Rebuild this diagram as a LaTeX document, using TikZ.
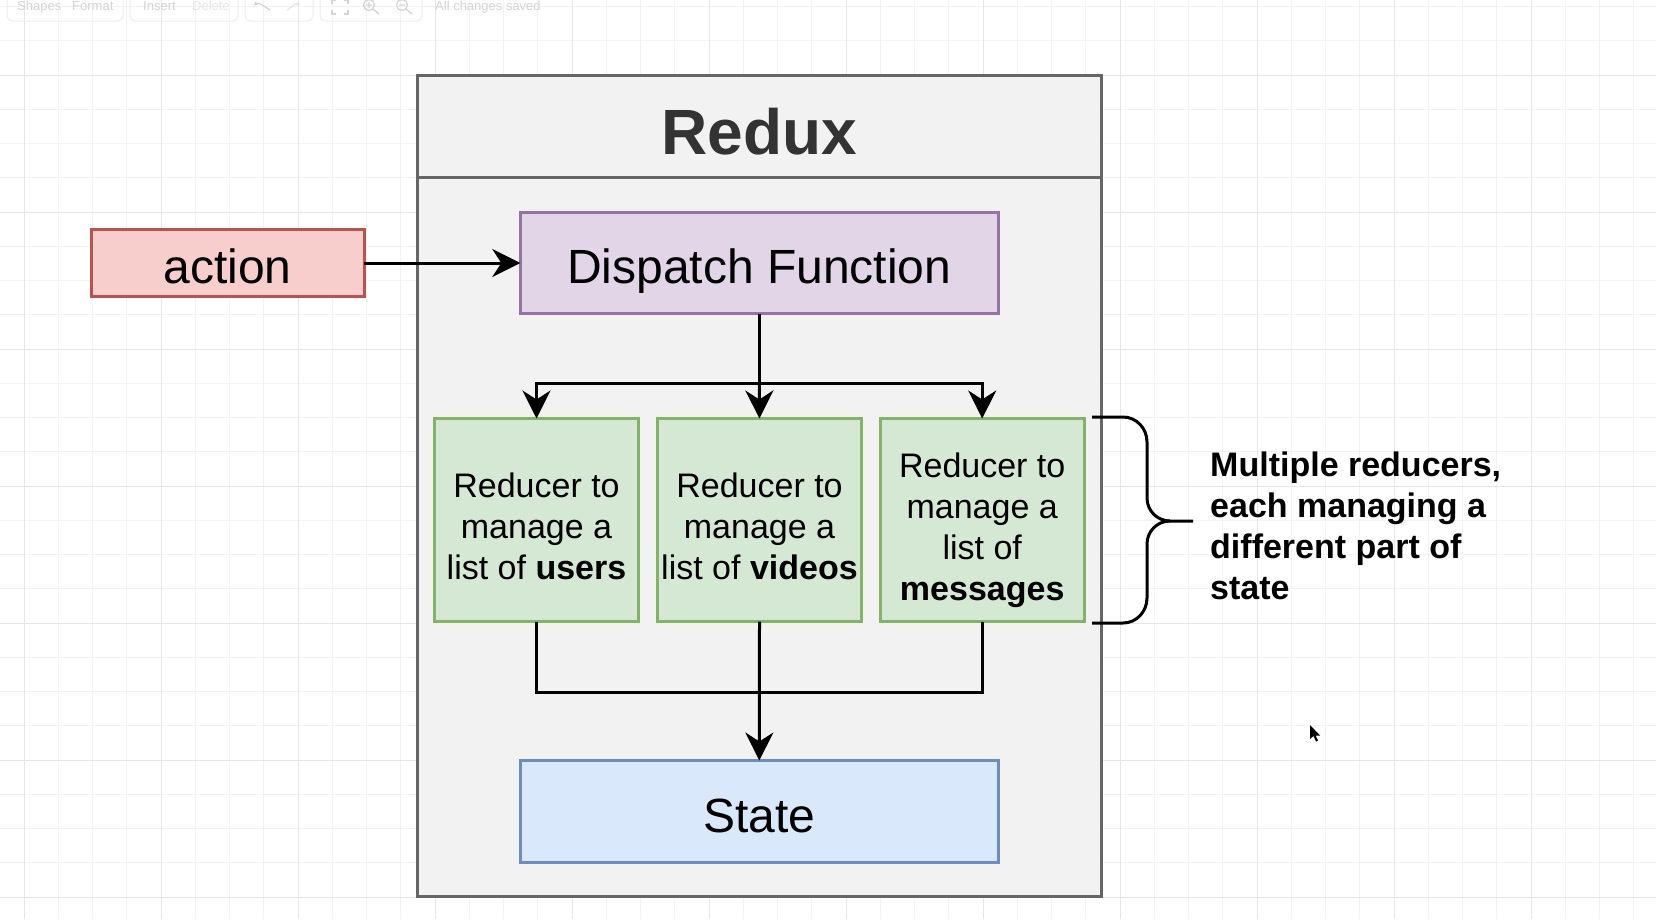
\documentclass[tikz,border=0pt]{standalone}
\usepackage{fontspec}
\setmainfont{Liberation Sans}
\usetikzlibrary{arrows.meta}
\definecolor{gminor}{HTML}{F3F3F3}
\definecolor{gmajor}{HTML}{E7E7E7}
\definecolor{contfill}{HTML}{F2F2F2}
\definecolor{contline}{HTML}{666666}
\definecolor{titlecol}{HTML}{333333}
\definecolor{redfill}{HTML}{F8CECC}
\definecolor{redline}{HTML}{B85450}
\definecolor{purfill}{HTML}{E1D5E7}
\definecolor{purline}{HTML}{9673A6}
\definecolor{grnfill}{HTML}{D5E8D4}
\definecolor{grnline}{HTML}{82B366}
\definecolor{blufill}{HTML}{DAE8FC}
\definecolor{bluline}{HTML}{6C8EBF}
\definecolor{tbtext}{HTML}{D4D4D4}
\definecolor{tbfaint}{HTML}{E6E6E6}
\definecolor{tbbox}{HTML}{EEEEEE}
\begin{document}
\begin{tikzpicture}[x=1pt,y=-1pt,
  box/.style={draw, line width=3pt, inner sep=0pt, outer sep=0pt},
  bigtext/.style={font=\fontsize{48}{58}\selectfont, text height=41pt, text depth=0pt},
  redtext/.style={font=\fontsize{34}{41}\selectfont, anchor=base, inner sep=0pt},
  notetext/.style={font=\fontsize{34}{41}\selectfont\bfseries, anchor=base west, inner sep=0pt},
  conn/.style={line width=3pt, black},
  arr/.style={conn, -{Stealth[length=28pt,width=28pt,inset=9pt]}},
  tbt/.style={font=\fontsize{13}{15}\selectfont, text=tbtext, anchor=base west, inner sep=0pt},
  icon/.style={draw=tbtext, line width=1.3pt}
]
\path[use as bounding box, fill=white] (0,0) rectangle (1656,919);

% grid
\foreach \i in {0,...,49}{
  \pgfmathsetmacro\gx{-10.25+34.25*\i}
  \draw[gminor, line width=1pt] (\gx,0) -- (\gx,919);
}
\foreach \i in {0,...,26}{
  \pgfmathsetmacro\gy{6.5+34.25*\i}
  \draw[gminor, line width=1pt] (0,\gy) -- (1656,\gy);
}
\foreach \i in {0,...,11}{
  \pgfmathsetmacro\gx{24+137*\i}
  \draw[gmajor, line width=1pt] (\gx,0) -- (\gx,919);
}
\foreach \i in {0,...,6}{
  \pgfmathsetmacro\gy{75+137*\i}
  \draw[gmajor, line width=1pt] (0,\gy) -- (1656,\gy);
}

% faint toolbar
\draw[tbbox, line width=1pt, rounded corners=5pt] (7,-8) rectangle (123,21);
\draw[tbbox, line width=1pt, rounded corners=5pt] (130,-8) rectangle (238,21);
\draw[tbbox, line width=1pt, rounded corners=5pt] (245,-8) rectangle (313,21);
\draw[tbbox, line width=1pt, rounded corners=5pt] (320,-8) rectangle (422,21);
\node[tbt] (tbshapes) at (17,10) {Shapes};
\node[tbt] (tbformat) at (72,10) {Format};
\node[tbt] (tbinsert) at (143,10) {Insert};
\node[tbt, text=tbfaint] (tbdelete) at (192,10) {Delete};
\node[tbt] (tbsaved) at (435,10) {All changes saved};
\draw[icon, -{Stealth[length=4pt,width=5pt]}] (270,10) to[out=150,in=30] (254,5);
\draw[icon, draw=tbfaint, -{Stealth[length=4pt,width=5pt]}] (287,10) to[out=30,in=150] (300,5);
\draw[icon] (332,4) -- (332,0) -- (336,0) (344,0) -- (348,0) -- (348,4)
            (348,10) -- (348,14) -- (344,14) (336,14) -- (332,14) -- (332,10);
\draw[icon] (369,5) circle (5.5pt) (373,9) -- (379,14) (366,5) -- (372,5) (369,2) -- (369,8);
\draw[icon] (402,5) circle (5.5pt) (406,9) -- (412,14) (399,5) -- (405,5);

% container (Redux)
\node[box, draw=contline, fill=contfill, minimum width=684pt, minimum height=821pt]
  (container) at (759.5,486) {};
\draw[contline, line width=3pt] (container.west |- 0,177) -- (container.east |- 0,177);
\node[font=\fontsize{64}{77}\selectfont\bfseries, text=titlecol, anchor=base, inner sep=0pt]
  (title) at (759.5,154) {Redux};

% boxes
\node[box, bigtext, draw=redline, fill=redfill, minimum width=273pt, minimum height=67pt]
  (action) at (227.5,263) {action};
\node[box, bigtext, draw=purline, fill=purfill, minimum width=478pt, minimum height=101pt]
  (dispatch) at (759.3,263) {Dispatch Function};
\node[box, draw=grnline, fill=grnfill, minimum width=204pt, minimum height=203pt]
  (r1) at (536.5,520) {};
\node[box, draw=grnline, fill=grnfill, minimum width=204pt, minimum height=203pt]
  (r2) at (759.5,520) {};
\node[box, draw=grnline, fill=grnfill, minimum width=204pt, minimum height=203pt]
  (r3) at (982.2,520) {};
\node[box, bigtext, draw=bluline, fill=blufill, minimum width=478pt, minimum height=102pt]
  (state) at (759.3,811.5) {State};

% reducer texts
\node[redtext] (r1a) at (536.5,497) {Reducer to};
\node[redtext] (r1b) at (536.5,538) {manage a};
\node[redtext] (r1c) at (536.5,579) {list of \textbf{users}};
\node[redtext] (r2a) at (759.5,497) {Reducer to};
\node[redtext] (r2b) at (759.5,538) {manage a};
\node[redtext] (r2c) at (759.5,579) {list of \textbf{videos}};
\node[redtext] (r3a) at (982.2,477) {Reducer to};
\node[redtext] (r3b) at (982.2,518) {manage a};
\node[redtext] (r3c) at (982.2,559) {list of};
\node[redtext] (r3d) at (982.2,600) {\textbf{messages}};

% connectors
\draw[arr] (action.east) -- (dispatch.west);
\coordinate (topbar) at (759.3,383);
\coordinate (botbar) at (759.5,692);
\draw[conn] (dispatch.south) -- (topbar);
\draw[arr] (topbar) -| (r1.north);
\draw[arr] (topbar) -- (r2.north);
\draw[arr] (topbar) -| (r3.north);
\draw[conn] (r1.south) |- (botbar);
\draw[conn] (r3.south) |- (botbar);
\draw[arr] (r2.south) -- (state.north);

% brace
\coordinate (bracetop) at (1092,417);
\coordinate (bracebot) at (1092,623);
\coordinate (bracetip) at (1193,521);
\draw[conn] (bracetop) -- (1123,417) to[out=0,in=90] (1147,442) -- (1147,498)
  to[out=-90,in=180] (1170,521) -- (bracetip);
\draw[conn] (bracebot) -- (1123,623) to[out=0,in=-90] (1147,598) -- (1147,544)
  to[out=90,in=180] (1170,521);

% note
\node[notetext] (n1) at (1210,476) {Multiple reducers,};
\node[notetext] (n2) at (1210,517) {each managing a};
\node[notetext] (n3) at (1210,558) {different part of};
\node[notetext] (n4) at (1210,599) {state};

% mouse cursor
\fill[black] (1310,725) -- (1310,739) -- (1313.5,736) -- (1316,741.5) -- (1318,740.5)
  -- (1315.5,735.5) -- (1320,735.5) -- cycle;
\end{tikzpicture}
\end{document}
